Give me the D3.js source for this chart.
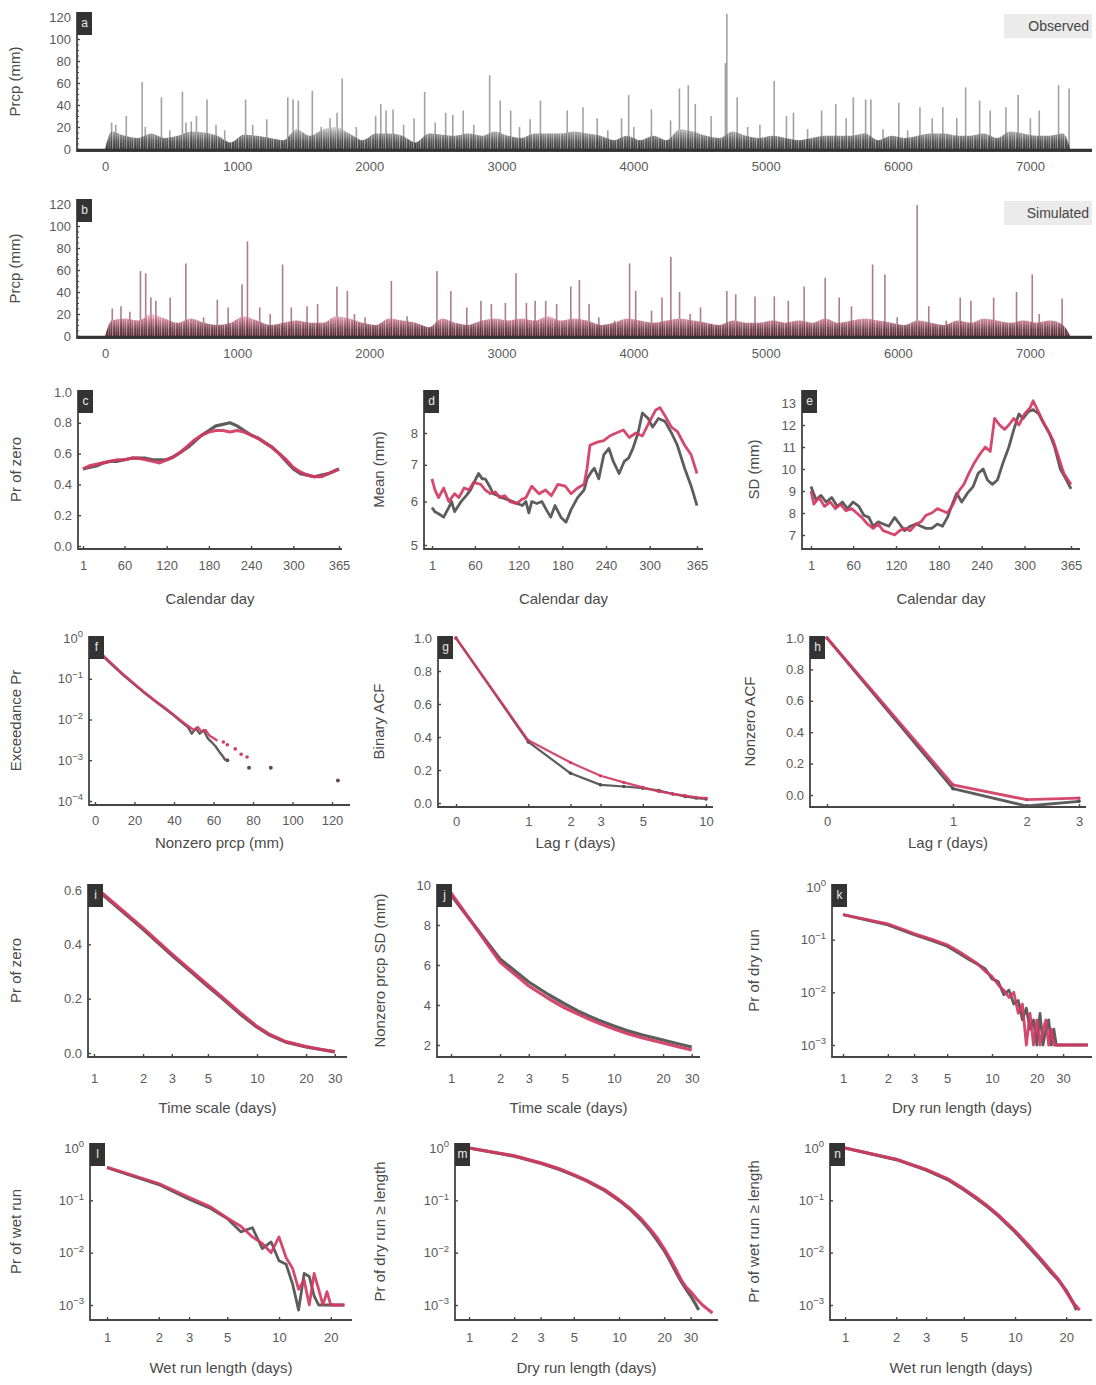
<!DOCTYPE html>
<html>
<head>
<meta charset="utf-8">
<title>Observed vs simulated daily precipitation</title>
<script src="https://cdn.jsdelivr.net/npm/d3@7/dist/d3.min.js"></script>
<style>
  html,body{margin:0;padding:0;background:#fff;}
  svg{display:block;}
</style>
</head>
<body>
<svg id="fig" width="1096" height="1385"></svg>
<script>
// ===================== data =====================
// Daily series (panels a, b)
const dayTicks = [0, 1000, 2000, 3000, 4000, 5000, 6000, 7000];
const prcpTicks = [0, 20, 40, 60, 80, 100, 120];
const seriesEndDay = 7305;
// typical wet-day depth in each 100-day block (mm)
const obsLevels = [16,12,10,14,10,12,16,15,12,6,13,12,10,8,18,12,18,20,14,8,14,14,12,6,14,13,12,14,12,16,12,10,14,14,14,16,14,12,8,12,8,12,8,18,16,12,10,16,12,10,12,10,8,10,12,12,12,14,8,12,10,12,14,14,12,12,14,10,16,14,12,12,14];
const simLevels = [14,16,14,20,16,12,16,12,10,12,18,14,10,12,14,12,12,18,16,12,10,16,14,12,8,16,12,10,14,16,14,16,14,18,14,16,14,10,12,16,14,12,14,16,14,12,10,14,12,12,14,12,14,12,16,12,14,16,14,12,10,14,12,10,14,12,16,14,12,14,12,14,10];
// individual heavy days: [day, mm]
const obsSpikes = [[50,24],[81,22],[161,30],[281,61],[305,20],[427,47],[490,17],[586,52],[613,24],[653,25],[692,30],[772,45],[840,22],[906,17],[1064,45],[1118,22],[1224,27],[1383,47],[1423,45],[1463,44],[1569,53],[1636,20],[1703,28],[1756,33],[1795,64],[1902,20],[2048,30],[2087,41],[2127,35],[2180,36],[2260,22],[2339,28],[2419,52],[2499,24],[2578,33],[2632,31],[2711,35],[2791,22],[2911,67],[2991,44],[3070,35],[3137,20],[3217,27],[3295,44],[3498,35],[3617,38],[3725,28],[3805,17],[3909,28],[3963,49],[4002,20],[4135,36],[4280,26],[4347,55],[4414,58],[4467,41],[4587,30],[4695,78],[4706,123],[4784,47],[4863,20],[4956,22],[5064,62],[5157,30],[5210,33],[5317,18],[5423,35],[5530,41],[5609,28],[5663,47],[5756,45],[5796,45],[5888,18],[6007,42],[6074,17],[6167,38],[6260,28],[6340,38],[6446,28],[6513,56],[6619,44],[6699,35],[6818,38],[6910,49],[7003,28],[7070,35],[7216,58],[7296,55]];
const simSpikes = [[55,25],[121,27],[188,22],[268,59],[308,57],[347,35],[385,32],[493,35],[612,66],[746,17],[850,33],[932,26],[1037,47],[1078,86],[1171,26],[1250,20],[1344,65],[1410,26],[1529,27],[1609,29],[1755,45],[1834,41],[1888,20],[1968,17],[2167,50],[2286,18],[2392,10],[2512,59],[2617,41],[2738,26],[2845,32],[2924,29],[3030,30],[3110,57],[3189,30],[3255,32],[3335,32],[3418,29],[3525,45],[3590,51],[3663,29],[3737,17],[3856,14],[3970,66],[4016,41],[4136,23],[4215,35],[4282,72],[4348,40],[4428,20],[4507,26],[4587,11],[4706,41],[4773,38],[4919,36],[5065,36],[5171,32],[5291,45],[5450,53],[5556,35],[5649,27],[5809,65],[5902,56],[5995,17],[6146,119],[6234,27],[6366,14],[6472,35],[6553,32],[6725,35],[6898,40],[7017,56],[7070,20],[7243,34]];

// Seasonal statistics (panels c, d, e): [calendar day, value]
const calDayTicks = [1, 60, 120, 180, 240, 300, 365];
const obsPrZero = [[1,0.50],[10,0.51],[20,0.52],[30,0.54],[40,0.55],[50,0.55],[60,0.56],[70,0.57],[80,0.57],[90,0.57],[100,0.56],[110,0.56],[120,0.56],[130,0.58],[140,0.61],[150,0.64],[160,0.68],[170,0.72],[180,0.75],[190,0.78],[200,0.79],[210,0.80],[220,0.78],[230,0.75],[240,0.72],[250,0.70],[260,0.67],[270,0.64],[280,0.60],[290,0.55],[300,0.50],[310,0.47],[320,0.46],[330,0.45],[340,0.46],[350,0.47],[360,0.49],[365,0.50]];
const simPrZero = [[1,0.50],[10,0.52],[20,0.53],[30,0.54],[40,0.55],[50,0.56],[60,0.56],[70,0.57],[80,0.57],[90,0.56],[100,0.55],[110,0.54],[120,0.56],[130,0.58],[140,0.61],[150,0.65],[160,0.69],[170,0.72],[180,0.74],[190,0.75],[200,0.75],[210,0.74],[220,0.75],[230,0.74],[240,0.72],[250,0.70],[260,0.67],[270,0.64],[280,0.60],[290,0.56],[300,0.51],[310,0.48],[320,0.46],[330,0.45],[340,0.45],[350,0.47],[360,0.49],[365,0.50]];
const obsMean = [[1,5.85],[5,5.75],[10,5.7],[17,5.62],[24,5.85],[28,6.0],[32,5.75],[41,6.0],[48,6.15],[54,6.3],[60,6.55],[65,6.75],[70,6.6],[74,6.6],[80,6.4],[85,6.2],[92,6.15],[98,6.09],[105,6.05],[112,6.0],[118,5.95],[125,5.9],[130,6.0],[134,5.72],[138,6.0],[145,5.95],[152,6.0],[158,5.8],[164,5.62],[170,5.9],[178,5.62],[185,5.5],[192,5.8],[201,6.1],[210,6.3],[214,6.6],[220,6.8],[224,6.9],[230,6.6],[237,7.3],[244,7.5],[250,7.1],[258,6.75],[265,7.1],[271,7.2],[277,7.5],[284,8.0],[290,8.7],[298,8.5],[304,8.2],[312,8.5],[321,8.4],[330,8.0],[338,7.6],[348,6.9],[357,6.4],[365,5.9]];
const simMean = [[1,6.6],[5,6.3],[10,6.1],[17,6.35],[24,6.0],[32,6.2],[38,6.1],[45,6.35],[52,6.3],[58,6.5],[68,6.45],[74,6.3],[81,6.2],[88,6.25],[94,6.1],[101,6.15],[108,6.0],[117,5.95],[124,6.05],[130,6.1],[138,6.4],[148,6.2],[157,6.3],[165,6.15],[174,6.45],[184,6.4],[192,6.2],[201,6.35],[210,6.45],[214,6.9],[218,7.6],[228,7.7],[237,7.75],[245,7.9],[254,8.0],[264,8.1],[272,7.85],[281,8.0],[290,7.9],[298,8.3],[308,8.8],[314,8.9],[321,8.6],[330,8.2],[338,8.05],[348,7.6],[357,7.3],[365,6.75]];
const obsSD = [[1,9.2],[8,8.6],[15,8.8],[22,8.5],[30,8.7],[38,8.3],[45,8.5],[52,8.2],[60,8.5],[68,8.3],[75,7.9],[82,7.8],[88,7.4],[95,7.6],[102,7.5],[110,7.4],[118,7.8],[125,7.5],[132,7.2],[140,7.4],[148,7.5],[155,7.4],[162,7.3],[170,7.3],[178,7.5],[185,7.4],[192,7.8],[200,8.5],[205,8.9],[212,8.5],[220,8.9],[228,9.2],[235,9.8],[242,10.0],[248,9.5],[255,9.3],[262,9.5],[270,10.3],[278,11.0],[285,11.8],[292,12.5],[298,12.3],[305,12.6],[312,12.7],[320,12.5],[328,12.0],[335,11.6],[342,11.0],[350,10.0],[357,9.6],[365,9.1]];
const simSD = [[1,9.0],[5,8.4],[12,8.7],[20,8.3],[28,8.5],[35,8.2],[42,8.4],[50,8.1],[58,8.2],[65,8.0],[72,7.8],[80,7.5],[88,7.3],[95,7.5],[102,7.2],[110,7.1],[118,7.0],[125,7.2],[132,7.3],[140,7.2],[148,7.5],[155,7.6],[162,7.9],[170,8.0],[178,8.2],[185,8.1],[192,8.0],[200,8.4],[208,9.0],[215,9.3],[222,9.8],[230,10.3],[238,10.7],[245,11.0],[252,10.8],[258,12.3],[265,12.0],[272,11.8],[278,12.0],[285,12.3],[292,12.0],[300,12.5],[308,12.8],[312,13.1],[318,12.7],[325,12.2],[332,11.8],[340,11.3],[348,10.5],[355,9.8],[365,9.3]];

// Exceedance of nonzero amounts (panel f): [mm, probability]
const obsExceed = [[2,0.45],[5,0.32],[10,0.19],[15,0.115],[20,0.072],[25,0.045],[30,0.029],[35,0.019],[40,0.0125],[44,0.0085],[47,0.0065],[49,0.0045],[51,0.006],[53,0.0045],[55,0.0055],[57,0.0035],[59,0.0028],[61,0.0022],[63,0.0016],[65,0.0012],[66,0.001]];
const simExceed = [[2,0.47],[5,0.34],[10,0.2],[15,0.12],[20,0.075],[25,0.047],[30,0.03],[35,0.02],[40,0.013],[44,0.009],[47,0.007],[50,0.0055],[52,0.0065],[54,0.005],[56,0.0055],[58,0.004],[60,0.0035],[62,0.003]];
const obsExceedTail = [[67,0.001],[78,0.00065],[89,0.00065],[123,0.00032]];
const simExceedTail = [[65,0.0028],[67,0.0024],[71,0.0019],[74,0.0014],[77,0.0012]];
const prcpAxisTicks = [0, 20, 40, 60, 80, 100, 120];

// Autocorrelation (panels g, h)
const acfLags = [0,1,2,3,4,5,6,7,8,9,10];
const obsBinAcf = [1, 0.37, 0.18, 0.11, 0.10, 0.09, 0.075, 0.055, 0.04, 0.03, 0.025];
const simBinAcf = [1, 0.38, 0.245, 0.165, 0.125, 0.095, 0.07, 0.055, 0.045, 0.035, 0.03];
const nzLags = [0,1,2,3];
const obsNzAcf = [1, 0.04, -0.07, -0.04];
const simNzAcf = [1, 0.065, -0.03, -0.02];

// Aggregation (panels i, j): [time scale, value]
const obsAggPrZero = [[1,0.61],[2,0.455],[3,0.36],[4,0.295],[5,0.245],[6,0.205],[7,0.17],[8,0.14],[10,0.095],[12,0.065],[15,0.04],[20,0.022],[25,0.012],[30,0.004]];
const simAggPrZero = [[1,0.615],[2,0.46],[3,0.365],[4,0.3],[5,0.25],[6,0.21],[7,0.175],[8,0.145],[10,0.098],[12,0.068],[15,0.042],[20,0.024],[25,0.013],[30,0.005]];
const obsAggSD = [[1,9.5],[2,6.3],[3,5.15],[4,4.5],[5,4.05],[6,3.7],[7,3.45],[8,3.25],[10,2.95],[12,2.72],[15,2.5],[20,2.25],[25,2.05],[30,1.9]];
const simAggSD = [[1,9.6],[2,6.15],[3,4.95],[4,4.3],[5,3.85],[6,3.55],[7,3.3],[8,3.1],[10,2.8],[12,2.58],[15,2.35],[20,2.1],[25,1.9],[30,1.75]];

// Spell lengths (panels k-n): [days, probability]
const obsDryRun = [[1,0.3],[2,0.19],[3,0.125],[4,0.095],[5,0.075],[6,0.055],[7,0.042],[8,0.034],[9,0.028],[10,0.018],[11,0.016],[12,0.009],[13,0.011],[14,0.006],[15,0.007],[16,0.003],[17,0.005],[18,0.002],[19,0.003],[20,0.001],[21,0.004],[22,0.001],[23,0.002],[24,0.003],[25,0.001],[26,0.002],[27,0.001],[44,0.001]];
const simDryRun = [[1,0.3],[2,0.2],[3,0.13],[4,0.1],[5,0.08],[6,0.06],[7,0.045],[8,0.035],[9,0.025],[10,0.02],[11,0.014],[12,0.011],[13,0.008],[14,0.01],[15,0.004],[16,0.006],[17,0.001],[18,0.004],[19,0.001],[20,0.003],[21,0.001],[22,0.002],[23,0.003],[24,0.001],[25,0.002],[26,0.001],[44,0.001]];
const obsWetRun = [[1,0.42],[2,0.2],[3,0.105],[4,0.07],[5,0.045],[6,0.025],[7,0.03],[8,0.012],[9,0.016],[10,0.007],[11,0.006],[12,0.0025],[13,0.0008],[14,0.004],[15,0.0035],[16,0.0015],[17,0.001],[18,0.001],[20,0.001],[22,0.001],[24,0.001]];
const simWetRun = [[1,0.43],[2,0.21],[3,0.115],[4,0.075],[5,0.046],[6,0.032],[7,0.02],[8,0.015],[9,0.01],[10,0.02],[11,0.008],[12,0.005],[13,0.002],[14,0.003],[15,0.001],[16,0.004],[17,0.002],[18,0.001],[19,0.0018],[20,0.001],[22,0.001],[24,0.001]];
const obsDrySurv = [[1,1],[2,0.7],[3,0.51],[4,0.39],[5,0.3],[6,0.24],[7,0.19],[8,0.155],[10,0.1],[12,0.065],[14,0.042],[16,0.027],[18,0.017],[20,0.011],[22,0.0068],[24,0.0042],[26,0.0028],[28,0.002],[30,0.0015],[32,0.0011],[34,0.0008]];
const simDrySurv = [[1,1],[2,0.71],[3,0.52],[4,0.4],[5,0.31],[6,0.245],[7,0.195],[8,0.16],[10,0.103],[12,0.068],[14,0.045],[16,0.029],[18,0.019],[20,0.012],[22,0.0075],[24,0.0047],[26,0.003],[28,0.0022],[30,0.0018],[33,0.0013],[36,0.001],[42,0.0007]];
const obsWetSurv = [[1,1],[2,0.6],[3,0.38],[4,0.25],[5,0.16],[6,0.105],[7,0.072],[8,0.05],[10,0.025],[12,0.013],[14,0.0075],[16,0.0045],[18,0.003],[20,0.0019],[22,0.0011],[23,0.0008]];
const simWetSurv = [[1,1],[2,0.61],[3,0.39],[4,0.26],[5,0.165],[6,0.11],[7,0.075],[8,0.052],[10,0.026],[12,0.014],[14,0.008],[16,0.0048],[18,0.0031],[20,0.0018],[22,0.0011],[24,0.0008]];

const logTicks30 = [1, 2, 3, 5, 10, 20, 30];
const logTicks20 = [1, 2, 3, 5, 10, 20];
const probTicks4 = [1e-4, 1e-3, 1e-2, 1e-1, 1];
const probTicks3 = [1e-3, 1e-2, 1e-1, 1];

// ===================== drawing =====================
const svg = d3.select('#fig');
const FONT = '"Liberation Sans", Arial, Helvetica, sans-serif';
const INK = '#454545', TXT = '#5a5a5a', OBS = '#4f4f4f', SIM = '#d23a63';
svg.attr('font-family', FONT);
const defs = svg.append('defs');

function pow10(sel) {
  sel.each(function (d) {
    const e = Math.round(Math.log10(d));
    const t = d3.select(this).text(null);
    t.append('tspan').text('10');
    t.append('tspan').attr('dy', '-0.55em').attr('font-size', '9.5px')
      .text(e < 0 ? '\u2212' + (-e) : String(e));
  });
}

function styleAxis(a) {
  a.attr('font-family', null).attr('font-size', null);
  a.select('.domain').remove();
  a.selectAll('.tick line').attr('stroke', INK).attr('stroke-width', 1.4);
  a.selectAll('.tick text').attr('fill', TXT).attr('font-size', 13).attr('font-family', FONT);
}

// axes, tick labels, titles and the letter tag of one panel
function panel(f) {
  const g = svg.append('g');
  const ax = g.append('g').attr('transform', `translate(0,${f.y1})`)
    .call(d3.axisBottom(f.x).tickValues(f.xTicks).tickSize(-3).tickPadding(f.xPad || 12)
      .tickFormat(f.xFmt || (d => d)));
  styleAxis(ax);
  const ay = g.append('g').attr('transform', `translate(${f.x0},0)`)
    .call(d3.axisLeft(f.y).tickValues(f.yTicks).tickSize(-3).tickPadding(6)
      .tickFormat(f.yFmt || (d => d)));
  styleAxis(ay);
  if (f.yPow) ay.selectAll('.tick text').call(pow10);
  g.append('path').attr('d', `M${f.x0},${f.y0}V${f.y1}H${f.x1}`)
    .attr('fill', 'none').attr('stroke', INK).attr('stroke-width', 1.8);
  if (f.xTitle) {
    g.append('text').attr('x', f.xTitleX || (f.x0 + f.x1) / 2).attr('y', f.xTitleY)
      .attr('text-anchor', 'middle').attr('font-size', 15).attr('fill', '#4a4a4a').text(f.xTitle);
  }
  const yc = f.yTitleY || (f.y0 + f.y1) / 2;
  g.append('text').attr('transform', `translate(${f.yTitleX},${yc}) rotate(-90)`)
    .attr('text-anchor', 'middle').attr('font-size', 15).attr('fill', '#4a4a4a').text(f.yTitle);
  f.g = g;
  return f;
}

function tag(f, letter) {
  f.g.append('rect').attr('x', f.x0).attr('y', f.y0).attr('width', 15).attr('height', 23).attr('fill', '#333');
  f.g.append('text').attr('x', f.x0 + 7.5).attr('y', f.y0 + 12).attr('text-anchor', 'middle')
    .attr('dominant-baseline', 'middle').attr('fill', '#e8e8e8').attr('font-size', 12).text(letter);
}

function line(f, data, color, width, xv) {
  const gen = d3.line().x(d => f.x(xv ? xv(d[0]) : d[0])).y(d => f.y(d[1]));
  f.g.append('path').datum(data).attr('d', gen).attr('fill', 'none')
    .attr('stroke', color).attr('stroke-width', width).attr('stroke-linejoin', 'round')
    .attr('stroke-opacity', 0.92);
}

function dots(f, data, color, r, xv) {
  f.g.append('g').selectAll('circle').data(data).join('circle')
    .attr('cx', d => f.x(xv ? xv(d[0]) : d[0])).attr('cy', d => f.y(d[1])).attr('r', r).attr('fill', color);
}

// ---------- panels a and b: daily series ----------
function dailyPanel(top, levels, spikes, cDark, cMid, cLight, spikeColor, id, letter, legend) {
  const f = {
    x0: 77, x1: 1092, y0: top, y1: top + 139,
    x: d3.scaleLinear().domain([0, 7000]).range([105, 1030]),
    y: d3.scaleLinear().domain([0, 120]).range([top + 137, top + 5]),
    xTicks: dayTicks, yTicks: prcpTicks, xPad: 11, yTitle: 'Prcp (mm)', yTitleX: 20
  };
  panel(f);
  // minor ticks on the depth axis
  f.g.append('g').attr('transform', `translate(${f.x0},0)`)
    .call(d3.axisLeft(f.y).tickValues(d3.range(0, 121, 5)).tickSize(-2).tickFormat(''))
    .call(a => { a.select('.domain').remove(); a.selectAll('line').attr('stroke', INK); });

  const grad = defs.append('linearGradient').attr('id', 'g' + id).attr('gradientUnits', 'userSpaceOnUse')
    .attr('x1', 0).attr('x2', 0).attr('y1', f.y(0)).attr('y2', f.y(22));
  grad.append('stop').attr('offset', 0).attr('stop-color', cDark).attr('stop-opacity', 1);
  grad.append('stop').attr('offset', 0.3).attr('stop-color', cDark).attr('stop-opacity', 0.85);
  grad.append('stop').attr('offset', 0.65).attr('stop-color', cMid).attr('stop-opacity', 0.7);
  grad.append('stop').attr('offset', 1).attr('stop-color', cLight).attr('stop-opacity', 0.35);
  const pat = defs.append('pattern').attr('id', 'p' + id).attr('patternUnits', 'userSpaceOnUse')
    .attr('width', 7).attr('height', 10);
  pat.append('rect').attr('x', 0).attr('y', 0).attr('width', 1.1).attr('height', 10).attr('fill', '#fff').attr('opacity', 0.45);
  pat.append('rect').attr('x', 3.2).attr('y', 0).attr('width', 0.7).attr('height', 10).attr('fill', '#fff').attr('opacity', 0.35);
  pat.append('rect').attr('x', 5.1).attr('y', 0).attr('width', 0.9).attr('height', 10).attr('fill', '#fff').attr('opacity', 0.25);

  const pts = levels.map((v, i) => [i * 100 + 50, v]);
  const env = [[0, 0], ...pts, [seriesEndDay, 0]];
  const area = d3.area().curve(d3.curveMonotoneX).x(d => f.x(d[0])).y0(f.y(0)).y1(d => f.y(d[1]));
  f.g.append('g').selectAll('line').data(spikes).join('line')
    .attr('x1', d => f.x(d[0])).attr('x2', d => f.x(d[0]))
    .attr('y1', f.y(0)).attr('y2', d => f.y(d[1]))
    .attr('stroke', spikeColor).attr('stroke-width', 1.6).attr('stroke-opacity', 0.7);
  f.g.append('path').datum(env).attr('d', area).attr('fill', `url(#g${id})`);
  f.g.append('path').datum(env).attr('d', area).attr('fill', `url(#p${id})`);
  // zero line along the record
  f.g.append('line').attr('x1', f.x0).attr('x2', f.x1).attr('y1', f.y(0) + 1).attr('y2', f.y(0) + 1)
    .attr('stroke', '#333').attr('stroke-width', 2.4);
  tag(f, letter);
  const lg = f.g.append('g');
  lg.append('rect').attr('x', 1004).attr('y', top + 2).attr('width', 88).attr('height', 24).attr('fill', '#ebebeb');
  lg.append('text').attr('x', 1089).attr('y', top + 19).attr('text-anchor', 'end')
    .attr('font-size', 14).attr('fill', '#444').text(legend);
  return f;
}
dailyPanel(12, obsLevels, obsSpikes, '#3a3a3a', '#6e6e6e', '#b0b0b0', '#7a7a7a', 'obs', 'a', 'Observed');
dailyPanel(199, simLevels, simSpikes, '#5e2a38', '#b04a66', '#e2a0b2', '#8a4658', 'sim', 'b', 'Simulated');

// ---------- row c, d, e ----------
const pc = panel({ x0: 78, x1: 342, y0: 390, y1: 549,
  x: d3.scaleLinear().domain([1, 365]).range([83, 339]),
  y: d3.scaleLinear().domain([0, 1]).range([546, 392]),
  xTicks: calDayTicks, yTicks: [0, 0.2, 0.4, 0.6, 0.8, 1.0], yFmt: d3.format('.1f'),
  xTitle: 'Calendar day', xTitleY: 604, yTitle: 'Pr of zero', yTitleX: 21 });
line(pc, obsPrZero, OBS, 3.2);
line(pc, simPrZero, SIM, 3.2);
tag(pc, 'c');

const pd = panel({ x0: 424, x1: 703, y0: 390, y1: 549,
  x: d3.scaleLinear().domain([1, 365]).range([432, 697]),
  y: d3.scaleLog().domain([5, 8]).range([545, 433]),
  xTicks: calDayTicks, yTicks: [5, 6, 7, 8],
  xTitle: 'Calendar day', xTitleY: 604, yTitle: 'Mean (mm)', yTitleX: 384 });
line(pd, obsMean, OBS, 2.8);
line(pd, simMean, SIM, 2.8);
tag(pd, 'd');

const pe = panel({ x0: 802, x1: 1080, y0: 390, y1: 549,
  x: d3.scaleLinear().domain([1, 365]).range([811, 1071]),
  y: d3.scaleLinear().domain([7, 13]).range([535, 403]),
  xTicks: calDayTicks, yTicks: [7, 8, 9, 10, 11, 12, 13],
  xTitle: 'Calendar day', xTitleY: 604, yTitle: 'SD (mm)', yTitleX: 759 });
line(pe, obsSD, OBS, 2.8);
line(pe, simSD, SIM, 2.8);
tag(pe, 'e');

// ---------- row f, g, h ----------
const pf = panel({ x0: 89, x1: 350, y0: 636, y1: 805,
  x: d3.scaleLinear().domain([0, 120]).range([95, 332]),
  y: d3.scaleLog().domain([1e-4, 1]).range([801, 638]),
  xTicks: prcpAxisTicks, yTicks: probTicks4, yPow: true, xPad: 11,
  xTitle: 'Nonzero prcp (mm)', xTitleY: 848, yTitle: 'Exceedance Pr', yTitleX: 21 });
line(pf, obsExceed, OBS, 2.4);
line(pf, simExceed, SIM, 2.4);
dots(pf, simExceedTail, SIM, 1.8);
dots(pf, obsExceedTail, '#6a4a52', 2);
tag(pf, 'f');

const lagX = l => 1 + l;
const pg = panel({ x0: 438, x1: 713, y0: 636, y1: 807,
  x: d3.scaleLog().domain([1, 11]).range([456, 706]),
  y: d3.scaleLinear().domain([0, 1]).range([803, 638]),
  xTicks: [1, 2, 3, 4, 6, 11], xFmt: d => d - 1, xPad: 10,
  yTicks: [0, 0.2, 0.4, 0.6, 0.8, 1.0], yFmt: d3.format('.1f'),
  xTitle: 'Lag r (days)', xTitleY: 848, yTitle: 'Binary ACF', yTitleX: 384 });
const gObs = acfLags.map((l, i) => [l, obsBinAcf[i]]);
const gSim = acfLags.map((l, i) => [l, simBinAcf[i]]);
line(pg, gObs, OBS, 2.2, lagX); dots(pg, gObs, OBS, 1.8, lagX);
line(pg, gSim, SIM, 2.2, lagX); dots(pg, gSim, SIM, 1.6, lagX);
tag(pg, 'g');

const ph = panel({ x0: 810, x1: 1086, y0: 636, y1: 807,
  x: d3.scaleLog().domain([1, 4]).range([827, 1079]),
  y: d3.scaleLinear().domain([0, 1]).range([795, 638]),
  xTicks: [1, 2, 3, 4], xFmt: d => d - 1, xPad: 10,
  yTicks: [0, 0.2, 0.4, 0.6, 0.8, 1.0], yFmt: d3.format('.1f'),
  xTitle: 'Lag r (days)', xTitleY: 848, yTitle: 'Nonzero ACF', yTitleX: 755 });
const hObs = nzLags.map((l, i) => [l, obsNzAcf[i]]);
const hSim = nzLags.map((l, i) => [l, simNzAcf[i]]);
line(ph, hObs, OBS, 2.8, lagX); dots(ph, hObs, OBS, 1.8, lagX);
line(ph, hSim, SIM, 2.8, lagX); dots(ph, hSim, SIM, 1.6, lagX);
tag(ph, 'h');

// ---------- row i, j, k ----------
const pi = panel({ x0: 88, x1: 347, y0: 884, y1: 1057,
  x: d3.scaleLog().domain([1, 10]).range([94, 257]),
  y: d3.scaleLinear().domain([0, 0.6]).range([1053, 890]),
  xTicks: logTicks30, yTicks: [0, 0.2, 0.4, 0.6], yFmt: d3.format('.1f'), xPad: 17,
  xTitle: 'Time scale (days)', xTitleY: 1113, yTitle: 'Pr of zero', yTitleX: 21 });
line(pi, obsAggPrZero, OBS, 3.2);
line(pi, simAggPrZero, SIM, 3.2);
tag(pi, 'i');

const pj = panel({ x0: 437, x1: 700, y0: 884, y1: 1057,
  x: d3.scaleLog().domain([1, 10]).range([451, 614]),
  y: d3.scaleLinear().domain([2, 10]).range([1045, 885]),
  xTicks: logTicks30, yTicks: [2, 4, 6, 8, 10], xPad: 17,
  xTitle: 'Time scale (days)', xTitleY: 1113, yTitle: 'Nonzero prcp SD (mm)', yTitleX: 385 });
line(pj, obsAggSD, OBS, 3.2);
line(pj, simAggSD, SIM, 3.2);
tag(pj, 'j');

const pk = panel({ x0: 832, x1: 1092, y0: 884, y1: 1057,
  x: d3.scaleLog().domain([1, 10]).range([843, 992]),
  y: d3.scaleLog().domain([1e-3, 1]).range([1045, 887]),
  xTicks: logTicks30, yTicks: probTicks3, yPow: true, xPad: 17,
  xTitle: 'Dry run length (days)', xTitleY: 1113, yTitle: 'Pr of dry run', yTitleX: 759 });
line(pk, obsDryRun, OBS, 2.8);
line(pk, simDryRun, SIM, 2.8);
tag(pk, 'k');

// ---------- row l, m, n ----------
const pl = panel({ x0: 90, x1: 352, y0: 1143, y1: 1320,
  x: d3.scaleLog().domain([1, 10]).range([107, 279]),
  y: d3.scaleLog().domain([1e-3, 1]).range([1305, 1148]),
  xTicks: logTicks20, yTicks: probTicks3, yPow: true, xPad: 13,
  xTitle: 'Wet run length (days)', xTitleY: 1373, yTitle: 'Pr of wet run', yTitleX: 21 });
line(pl, obsWetRun, OBS, 2.8);
line(pl, simWetRun, SIM, 2.8);
tag(pl, 'l');

const pm = panel({ x0: 455, x1: 718, y0: 1143, y1: 1320,
  x: d3.scaleLog().domain([1, 10]).range([469, 619]),
  y: d3.scaleLog().domain([1e-3, 1]).range([1305, 1148]),
  xTicks: logTicks30, yTicks: probTicks3, yPow: true, xPad: 13,
  xTitle: 'Dry run length (days)', xTitleY: 1373, yTitle: 'Pr of dry run \u2265 length', yTitleX: 385 });
line(pm, obsDrySurv, OBS, 3.2);
line(pm, simDrySurv, SIM, 3.2);
tag(pm, 'm');

const pn = panel({ x0: 830, x1: 1092, y0: 1143, y1: 1320,
  x: d3.scaleLog().domain([1, 10]).range([845, 1015]),
  y: d3.scaleLog().domain([1e-3, 1]).range([1305, 1148]),
  xTicks: logTicks20, yTicks: probTicks3, yPow: true, xPad: 13,
  xTitle: 'Wet run length (days)', xTitleY: 1373, yTitle: 'Pr of wet run \u2265 length', yTitleX: 759 });
line(pn, obsWetSurv, OBS, 3.2);
line(pn, simWetSurv, SIM, 3.2);
tag(pn, 'n');
</script>
</body>
</html>
